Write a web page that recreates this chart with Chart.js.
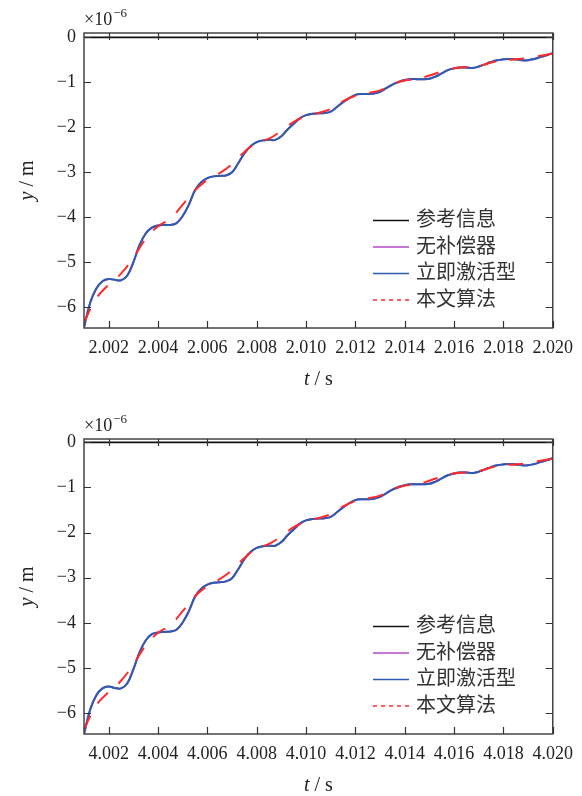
<!DOCTYPE html>
<html>
<head>
<meta charset="utf-8">
<script src="https://cdn.jsdelivr.net/npm/chart.js@4.4.0/dist/chart.umd.min.js"></script>
<style>
  html, body { margin: 0; padding: 0; background: #fff; }
  #c1 { position: absolute; left: 0; top: 0; }
  #c2 { position: absolute; left: 0; top: 406px; }
</style>
</head>
<body>
<canvas id="c1" width="582" height="406"></canvas>
<canvas id="c2" width="582" height="390"></canvas>
<script>
// time inside the window, in ms after the window base (2.000 s / 4.000 s)
const tBlue = [1.00, 1.25, 1.50, 1.75, 2.00, 2.25, 2.50, 2.75, 3.00, 3.25, 3.50, 3.75, 4.00, 4.25, 4.50, 4.75,
  5.00, 5.25, 5.50, 5.75, 6.00, 6.25, 6.50, 6.75, 7.00, 7.25, 7.50, 7.75, 8.00, 8.25, 8.50, 8.75,
  9.00, 9.25, 9.50, 9.75, 10.00, 10.25, 10.50, 10.75, 11.00, 11.25, 11.50, 11.75, 12.00, 12.25, 12.50, 12.75,
  13.00, 13.25, 13.50, 13.75, 14.00, 14.25, 14.50, 14.75, 15.00, 15.25, 15.50, 15.75, 16.00, 16.25, 16.50, 16.75,
  17.00, 17.25, 17.50, 17.75, 18.00, 18.25, 18.50, 18.75, 19.00, 19.25, 19.50, 19.75, 20.00];
const tRed = [1.0, 1.5, 2.0, 2.5, 3.0, 3.5, 4.0, 4.5, 5.0, 5.5, 6.0, 6.5, 7.0, 7.5, 8.0, 8.5, 9.0, 9.5, 10.0, 10.5,
  11.0, 11.5, 12.0, 12.5, 13.0, 13.5, 14.0, 14.5, 15.0, 15.5, 16.0, 16.5, 17.0, 17.5, 18.0, 18.5, 19.0, 19.5, 20.0];
const tRef = [1, 20];

// y values in units of 1e-6 m
const ref = [0, 0];

const blue1 = [-6.45, -5.90, -5.58, -5.42, -5.37, -5.39, -5.40, -5.30, -5.00, -4.62, -4.36, -4.23, -4.18, -4.17, -4.17, -4.13,
  -3.97, -3.72, -3.40, -3.22, -3.13, -3.09, -3.08, -3.07, -3.00, -2.80, -2.58, -2.42, -2.33, -2.29, -2.28, -2.28,
  -2.20, -2.05, -1.92, -1.80, -1.73, -1.70, -1.69, -1.68, -1.65, -1.55, -1.44, -1.35, -1.28, -1.26, -1.26, -1.25,
  -1.21, -1.13, -1.05, -0.99, -0.95, -0.93, -0.93, -0.93, -0.92, -0.87, -0.80, -0.73, -0.69, -0.67, -0.67, -0.68,
  -0.65, -0.60, -0.55, -0.51, -0.49, -0.48, -0.49, -0.51, -0.51, -0.48, -0.44, -0.40, -0.35];
const red1 = [-6.33, -5.80, -5.50, -5.25, -4.90, -4.48, -4.20, -4.03, -3.72, -3.40, -3.17, -3.02, -2.82, -2.55, -2.34, -2.25,
  -2.08, -1.88, -1.75, -1.68, -1.59, -1.42, -1.30, -1.24, -1.18, -1.05, -0.96, -0.93, -0.85, -0.76, -0.69, -0.66,
  -0.64, -0.56, -0.51, -0.49, -0.46, -0.41, -0.36];

const blue2 = [-6.46, -5.92, -5.60, -5.45, -5.41, -5.44, -5.45, -5.34, -5.03, -4.65, -4.39, -4.25, -4.21, -4.20, -4.19, -4.15,
  -3.99, -3.74, -3.42, -3.24, -3.15, -3.11, -3.10, -3.08, -3.01, -2.81, -2.59, -2.43, -2.34, -2.30, -2.29, -2.29,
  -2.21, -2.06, -1.93, -1.80, -1.73, -1.70, -1.69, -1.68, -1.65, -1.55, -1.44, -1.35, -1.28, -1.26, -1.26, -1.25,
  -1.21, -1.13, -1.05, -0.99, -0.95, -0.93, -0.93, -0.93, -0.92, -0.87, -0.80, -0.73, -0.69, -0.67, -0.67, -0.68,
  -0.65, -0.60, -0.55, -0.51, -0.49, -0.48, -0.49, -0.51, -0.51, -0.48, -0.44, -0.40, -0.35];
const red2 = [-6.35, -5.82, -5.53, -5.28, -4.92, -4.50, -4.22, -4.05, -3.74, -3.41, -3.18, -3.03, -2.83, -2.56, -2.35, -2.25,
  -2.08, -1.88, -1.75, -1.68, -1.59, -1.42, -1.30, -1.24, -1.18, -1.05, -0.96, -0.93, -0.85, -0.76, -0.69, -0.66,
  -0.64, -0.56, -0.51, -0.49, -0.46, -0.41, -0.36];

// no-compensator curve sits under the blue one
const noComp1 = blue1;
const noComp2 = blue2;

const xTickPos = [2, 4, 6, 8, 10, 12, 14, 16, 18, 20];
const xLabels1 = ['2.002', '2.004', '2.006', '2.008', '2.010', '2.012', '2.014', '2.016', '2.018', '2.020'];
const xLabels2 = ['4.002', '4.004', '4.006', '4.008', '4.010', '4.012', '4.014', '4.016', '4.018', '4.020'];
const yTickPos = [-6, -5, -4, -3, -2, -1, 0];
const yLabels = ['\u22126', '\u22125', '\u22124', '\u22123', '\u22122', '\u22121', '0'];

const legendNames = ['参考信息', '无补偿器', '立即激活型', '本文算法'];
const colors = { ref: '#111111', noComp: '#b048c4', blue: '#2b5cb0', red: '#ff2a2a' };

const serif = "'Liberation Serif', 'DejaVu Serif', serif";

const framePlugin = {
  id: 'frame',
  afterDatasetsDraw(chart) {
    const ctx = chart.ctx;
    const a = chart.chartArea;
    const x = chart.scales.x, y = chart.scales.y;
    ctx.save();
    // box
    ctx.strokeStyle = '#444';
    ctx.lineWidth = 1.5;
    ctx.strokeRect(a.left, a.top, a.right - a.left, a.bottom - a.top);
    // inward ticks
    ctx.strokeStyle = '#333';
    ctx.lineWidth = 1.2;
    ctx.beginPath();
    x.ticks.forEach(t => {
      const px = Math.round(x.getPixelForValue(t.value)) + 0.5;
      ctx.moveTo(px, a.bottom); ctx.lineTo(px, a.bottom - 7);
      ctx.moveTo(px, a.top); ctx.lineTo(px, a.top + 7);
    });
    y.ticks.forEach(t => {
      const py = Math.round(y.getPixelForValue(t.value)) + 0.5;
      ctx.moveTo(a.left, py); ctx.lineTo(a.left + 7, py);
      ctx.moveTo(a.right, py); ctx.lineTo(a.right - 7, py);
    });
    ctx.stroke();

    // legend
    const lc = [colors.ref, colors.noComp, colors.blue, colors.red];
    const rows = [185.5, 212, 238.5, 265];
    ctx.font = "20px 'Noto Sans CJK SC'";
    ctx.textBaseline = 'middle';
    ctx.textAlign = 'left';
    rows.forEach((r, i) => {
      const yy = a.top + r;
      ctx.strokeStyle = lc[i];
      ctx.lineWidth = i === 0 ? 1.6 : 1.5;
      ctx.setLineDash(i === 3 ? [4, 4] : []);
      ctx.beginPath();
      ctx.moveTo(a.left + 289, yy + 2);
      ctx.lineTo(a.left + 325, yy + 2);
      ctx.stroke();
      ctx.setLineDash([]);
      ctx.fillStyle = '#333';
      ctx.fillText(legendNames[i], a.left + 332, yy);
    });
    ctx.restore();
  },
  afterDraw(chart) {
    const ctx = chart.ctx;
    const a = chart.chartArea;
    ctx.save();
    ctx.fillStyle = '#222';
    ctx.textBaseline = 'alphabetic';
    // exponent
    ctx.font = '18px ' + serif;
    ctx.textAlign = 'left';
    ctx.fillText('\u00d710', a.left, a.top - 8);
    const w = ctx.measureText('\u00d710').width;
    ctx.font = '13px ' + serif;
    ctx.fillText('\u22126', a.left + w + 1, a.top - 16);

    // x title
    const cx = (a.left + a.right) / 2;
    const ty = a.bottom + 57;
    ctx.font = 'italic 20px ' + serif;
    const w1 = ctx.measureText('t').width;
    ctx.font = '20px ' + serif;
    const w2 = ctx.measureText(' / s').width;
    let sx = cx - (w1 + w2) / 2;
    ctx.font = 'italic 20px ' + serif;
    ctx.fillText('t', sx, ty);
    ctx.font = '20px ' + serif;
    ctx.fillText(' / s', sx + w1, ty);

    // y title
    ctx.translate(33, (a.top + a.bottom) / 2);
    ctx.rotate(-Math.PI / 2);
    ctx.font = 'italic 20px ' + serif;
    const v1 = ctx.measureText('y').width;
    ctx.font = '20px ' + serif;
    const v2 = ctx.measureText(' / m').width;
    sx = -(v1 + v2) / 2;
    ctx.font = 'italic 20px ' + serif;
    ctx.fillText('y', sx, 0);
    ctx.font = '20px ' + serif;
    ctx.fillText(' / m', sx + v1, 0);
    ctx.restore();
  }
};

function line(label, xs, ys, color, extra) {
  return Object.assign({
    label: label,
    data: xs.map((v, i) => ({ x: v, y: ys[i] })),
    borderColor: color,
    backgroundColor: color,
    borderWidth: 2,
    pointRadius: 0,
    fill: false,
    tension: 0.4
  }, extra);
}

function makeChart(id, blue, red, noComp, xLabels, yMax, xAxisH) {
  new Chart(document.getElementById(id), {
    type: 'line',
    data: {
      datasets: [
        line(legendNames[3], tRed, red, colors.red, { borderDash: [15, 14], order: 0 }),
        line(legendNames[2], tBlue, blue, colors.blue, { order: 1 }),
        line(legendNames[1], tBlue, noComp, colors.noComp, { order: 2 }),
        line(legendNames[0], tRef, ref, colors.ref, { order: 3, borderWidth: 1.8, tension: 0 })
      ]
    },
    options: {
      responsive: false,
      animation: false,
      devicePixelRatio: 1,
      layout: { padding: { top: 33, right: 29, left: 0, bottom: 0 } },
      plugins: { legend: { display: false }, tooltip: { enabled: false } },
      scales: {
        x: {
          type: 'linear', min: 1, max: 20,
          grid: { display: false, drawTicks: false },
          border: { display: false },
          afterBuildTicks: s => { s.ticks = xTickPos.map(v => ({ value: v })); },
          afterFit: s => { s.height = xAxisH; },
          ticks: {
            padding: 9, maxRotation: 0, autoSkip: false, color: '#222',
            font: { family: serif, size: 18 },
            callback: (v, i) => xLabels[i]
          }
        },
        y: {
          type: 'linear', min: -6.46, max: yMax,
          grid: { display: false, drawTicks: false },
          border: { display: false },
          afterBuildTicks: s => { s.ticks = yTickPos.map(v => ({ value: v })); },
          afterFit: s => { s.width = 84; },
          ticks: {
            padding: 8, autoSkip: false, color: '#222',
            font: { family: serif, size: 18 },
            callback: (v, i) => yLabels[i]
          }
        }
      }
    },
    plugins: [framePlugin]
  });
}

makeChart('c1', blue1, red1, noComp1, xLabels1, 0.096, 78);
makeChart('c2', blue2, red2, noComp2, xLabels2, 0.073, 62);
</script>
</body>
</html>
